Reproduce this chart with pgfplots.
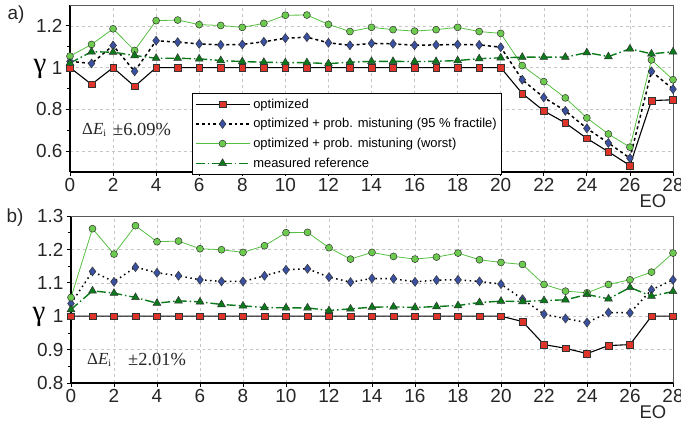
\documentclass[border=0pt]{standalone}
\usepackage{pgfplots}
\pgfplotsset{compat=1.18}
\usepackage{pgfplotstable}
\usepackage{fontspec}
\setmainfont{Liberation Sans}
\newfontfamily\seriffont{Liberation Serif}
\definecolor{cred}{HTML}{E0342A}
\definecolor{cblue}{HTML}{3A50A0}
\definecolor{clgreen}{HTML}{6CCB4E}
\definecolor{clgline}{HTML}{55C040}
\definecolor{cdgreen}{HTML}{0A7A1A}

% top panel data
\pgfplotstableread{
x opt p95 worst meas
0 1.000 1.030 1.055 1.022
1 0.920 1.020 1.111 1.076
2 1.000 1.106 1.186 1.074
3 0.910 0.982 1.082 1.058
4 1.000 1.129 1.225 1.045
5 1.000 1.122 1.228 1.045
6 1.000 1.114 1.206 1.042
7 1.000 1.109 1.202 1.034
8 1.000 1.111 1.193 1.029
9 1.000 1.124 1.212 1.026
10 1.000 1.141 1.251 1.024
11 1.000 1.146 1.252 1.024
12 1.000 1.119 1.207 1.019
13 1.000 1.107 1.173 1.026
14 1.000 1.116 1.193 1.030
15 1.000 1.114 1.182 1.030
16 1.000 1.107 1.175 1.029
17 1.000 1.109 1.182 1.030
18 1.000 1.111 1.193 1.034
19 1.000 1.109 1.173 1.043
20 1.000 1.098 1.164 1.047
21 0.876 0.942 1.010 1.050
22 0.793 0.857 0.933 1.050
23 0.735 0.793 0.855 1.050
24 0.661 0.709 0.759 1.072
25 0.597 0.639 0.682 1.053
26 0.531 0.566 0.619 1.090
27 0.842 0.982 1.037 1.066
28 0.846 0.897 0.942 1.076
}\dataA

% bottom panel data
\pgfplotstableread{
x opt p95 worst meas
0 1.000 1.038 1.056 1.020
1 1.000 1.134 1.262 1.076
2 1.000 1.103 1.186 1.069
3 1.000 1.147 1.271 1.056
4 1.000 1.130 1.223 1.039
5 1.000 1.121 1.225 1.046
6 1.000 1.109 1.202 1.043
7 1.000 1.104 1.199 1.035
8 1.000 1.104 1.191 1.031
9 1.000 1.121 1.211 1.026
10 1.000 1.139 1.250 1.025
11 1.000 1.142 1.251 1.025
12 1.000 1.117 1.205 1.017
13 1.000 1.102 1.171 1.022
14 1.000 1.113 1.191 1.027
15 1.000 1.112 1.179 1.028
16 1.000 1.103 1.171 1.026
17 1.000 1.108 1.177 1.029
18 1.000 1.109 1.189 1.032
19 1.000 1.104 1.169 1.041
20 1.000 1.096 1.161 1.045
21 0.984 1.051 1.155 1.044
22 0.915 1.006 1.095 1.047
23 0.904 0.993 1.075 1.049
24 0.888 0.981 1.070 1.065
25 0.912 1.011 1.095 1.052
26 0.915 1.010 1.109 1.086
27 1.000 1.079 1.132 1.060
28 1.000 1.109 1.189 1.074
}\dataB

\pgfplotsset{
  panel/.style={
    scale only axis,
    anchor=south west,
    width=603bp, height=167bp,
    xmin=0, xmax=28,
    xtick distance=2,
    axis lines*=left,
    axis line style={line width=1.3pt, black},
    tick align=outside,
    major tick length=4bp,
    minor tick length=2.5bp,
    tick style={black, line width=0.8pt},
    minor y tick num=1,
    grid=major,
    major grid style={dashed, gray!45, line width=0.5pt},
    /pgf/number format/assume math mode=true,
    tick label style={font=\fontsize{19}{19}\selectfont, text=black!85},
    xticklabel style={yshift=1bp},
    clip=false,
  },
  optstyle/.style={black, line width=1.1pt, mark=square*, mark size=3.3bp,
    mark options={solid, fill=cred, draw=black!80, line width=0.5pt}},
  p95style/.style={black, line width=1.5pt, dash pattern=on 3pt off 3pt, mark=diamond*, mark size=4.5bp,
    mark options={solid, fill=cblue, draw=black!80, line width=0.5pt}},
  worststyle/.style={clgline, line width=0.8pt, mark=*, mark size=3.5bp,
    mark options={solid, fill=clgreen, draw=black!80, line width=0.5pt}},
  measstyle/.style={cdgreen, line width=1.4pt, dash pattern=on 9pt off 3pt on 1.5pt off 3pt, mark=triangle*, mark size=4.5bp,
    mark options={solid, fill=cdgreen, draw=black!80, line width=0.5pt}},
}

\begin{document}
\begin{tikzpicture}
\path[use as bounding box] (0,0) rectangle (681bp,422bp);

% ---- top panel (a)
\begin{axis}[panel, at={(70bp,250bp)},
  ymin=0.5, ymax=1.3, ytick={0.6,0.8,1,1.2},
  yticklabels={0.6,0.8,1,1.2},
  legend cell align=left,
  legend style={at={(0.2030,0.473)}, anchor=north west, draw=black, line width=0.8pt,
    font=\fontsize{13}{14}\selectfont, row sep=5.8pt, inner xsep=2pt, inner ysep=4pt,
    nodes={inner xsep=3pt, inner ysep=1.5pt}},
  legend image code/.code={
    \draw[#1] (0bp,0bp) -- (27bp,0bp) plot coordinates {(27bp,0bp)} -- (54bp,0bp);
  },
]
\addplot[optstyle] table[x=x,y=opt] {\dataA};
\addlegendentry{optimized}
\addplot[p95style] table[x=x,y=p95] {\dataA};
\addlegendentry{optimized + prob. mistuning (95 \% fractile)\hspace{6bp}}
\addplot[worststyle] table[x=x,y=worst] {\dataA};
\addlegendentry{optimized + prob. mistuning (worst)}
\addplot[measstyle] table[x=x,y=meas] {\dataA};
\addlegendentry{measured reference}
\draw[black!65, line width=0.7pt] (rel axis cs:0,1) -- (rel axis cs:1,1) -- (rel axis cs:1,0);
\end{axis}

% ---- bottom panel (b)
\begin{axis}[panel, at={(71bp,39bp)}, width=602bp,
  ymin=0.8, ymax=1.3, ytick={0.8,0.9,1,1.1,1.2,1.3},
  yticklabels={0.8,0.9,1,1.1,1.2,1.3},
]
\addplot[optstyle] table[x=x,y=opt] {\dataB};
\addplot[p95style, dash pattern=on 1.5pt off 3.5pt] table[x=x,y=p95] {\dataB};
\addplot[worststyle] table[x=x,y=worst] {\dataB};
\addplot[measstyle] table[x=x,y=meas] {\dataB};
\draw[black!65, line width=0.7pt] (rel axis cs:0,1) -- (rel axis cs:1,1) -- (rel axis cs:1,0);
\end{axis}

% labels
\node[font=\fontsize{19}{19}\selectfont, text=black!85] at (16bp,407bp) {a)};
\node[font=\fontsize{19}{19}\selectfont, text=black!85] at (15bp,204bp) {b)};
\node[font=\seriffont\fontsize{29}{29}\selectfont] at (40bp,353bp) {γ};
\node[font=\seriffont\fontsize{29}{29}\selectfont] at (39bp,105bp) {γ};
\node[font=\fontsize{18.5}{18.5}\selectfont, text=black!85] at (653bp,221bp) {EO};
\node[font=\fontsize{18.5}{18.5}\selectfont, text=black!85, inner sep=1pt] at (653bp,10bp) {EO};
\node[anchor=west, font=\seriffont\fontsize{17}{17}\selectfont, inner sep=0pt, text=black!85] at (82bp,292bp) {Δ\textit{E}\raisebox{-0.35ex}{\fontsize{10}{10}\selectfont i}};
\node[anchor=west, font=\seriffont\fontsize{18.5}{18.5}\selectfont, inner sep=0pt, text=black!85] at (113bp,292bp) {±6.09\%};
\node[anchor=west, font=\seriffont\fontsize{17}{17}\selectfont, inner sep=0pt, text=black!85] at (87bp,62bp) {Δ\textit{E}\raisebox{-0.35ex}{\fontsize{10}{10}\selectfont i}};
\node[anchor=west, font=\seriffont\fontsize{18.5}{18.5}\selectfont, inner sep=0pt, text=black!85] at (128bp,62bp) {±2.01\%};
\end{tikzpicture}
\end{document}
